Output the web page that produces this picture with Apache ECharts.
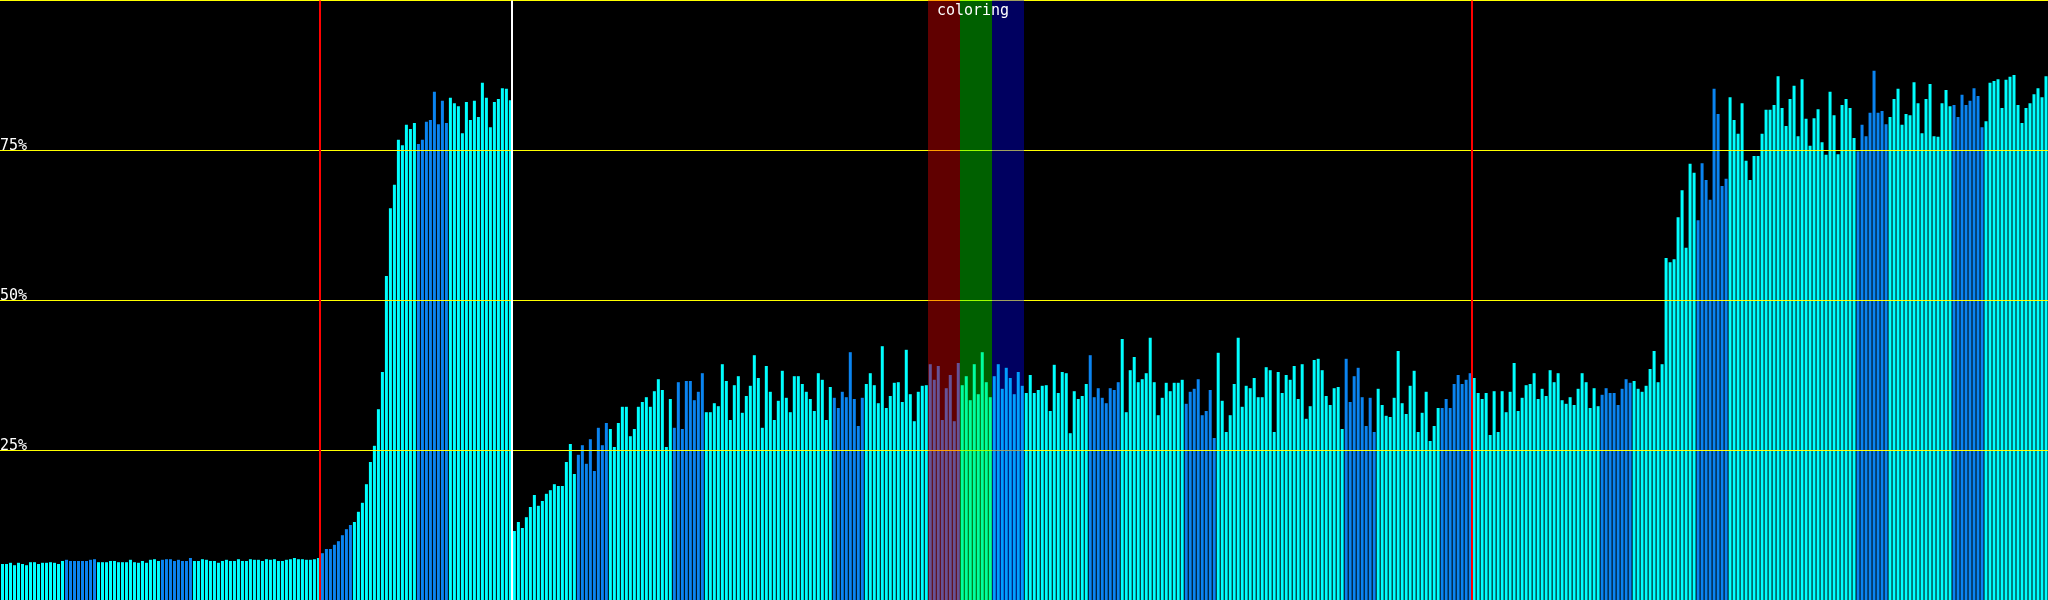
<!DOCTYPE html>
<html>
<head>
<meta charset="utf-8">
<script src="https://cdn.jsdelivr.net/npm/echarts@6/dist/echarts.min.js"></script>
<style>
html,body{margin:0;padding:0;background:#000;}
#chart{width:2048px;height:600px;}
</style>
</head>
<body>
<div id="chart"></div>
<script>
// ---- data (percent per bar, 512 bars) ----
const values000 = [
 6.0,6.0,6.2,5.8,6.2,6.0,5.8,6.3,6.3,6.0,6.2,6.2,6.3,6.2,6.0,6.5,
 6.7,6.5,6.5,6.5,6.5,6.5,6.7,6.8,6.3,6.3,6.3,6.5,6.5,6.3,6.3,6.3,
 6.7,6.3,6.2,6.5,6.2,6.7,6.8,6.5,6.7,6.8,6.8,6.5,6.7,6.5,6.5,7.0,
 6.5,6.5,6.8,6.7,6.5,6.5,6.2,6.5,6.7,6.5,6.5,6.8,6.5,6.5,6.8,6.7,
 6.7,6.5,6.8,6.7,6.8,6.5,6.5,6.7,6.8,7.0,6.8,6.8,6.7,6.7,6.8,7.0,
 7.8,8.5,8.5,9.2,9.8,10.8,11.8,12.5,13.0,14.7,16.2,19.3,23.0,25.7,31.8,38.0,
 54.0,65.3,69.2,76.7,75.8,79.2,78.5,79.5,76.0,76.7,79.7,80.0,84.7,79.3,83.2,79.5,
 83.7,82.8,82.3,77.8,83.0,80.0,83.2,80.5,86.2,83.7,78.8,83.0,83.5,85.3,85.2,83.3
];
const values128 = [
 11.5,13.0,12.0,13.8,15.5,17.5,15.7,16.5,17.7,18.3,19.3,19.0,19.0,23.0,26.0,21.0,
 24.2,25.8,22.7,26.8,21.5,28.7,25.8,29.5,28.5,25.5,29.5,32.2,32.2,27.3,28.5,32.2,
 33.0,33.8,32.2,34.8,36.8,35.0,25.5,33.5,28.7,36.3,28.5,36.5,36.5,33.3,34.7,37.8,
 31.3,31.3,32.8,32.3,39.3,36.5,30.0,35.8,37.3,31.2,34.0,35.7,40.8,37.0,28.7,39.0,
 34.7,30.0,33.2,38.2,33.7,31.3,37.3,37.3,36.0,34.7,33.5,31.5,37.8,36.7,30.0,35.5,
 33.7,32.0,34.7,33.8,41.3,33.5,29.0,33.7,36.0,37.8,35.8,32.8,42.3,32.0,34.0,36.2,
 36.3,33.0,41.7,34.3,29.8,34.7,35.7,35.8,39.3,36.7,39.0,30.0,35.3,37.5,29.8,39.5,
 35.8,37.3,33.3,39.3,34.3,41.3,36.3,33.8,37.3,39.3,35.2,38.7,37.0,34.3,38.0,35.7
];
const values256 = [
 34.5,37.5,34.5,35.0,35.7,35.8,31.5,39.2,34.5,38.0,37.8,27.8,34.8,33.5,34.0,36.0,
 40.8,33.8,35.3,33.7,32.8,35.3,35.0,36.3,43.5,31.3,38.3,40.5,36.3,36.8,37.8,43.7,
 36.3,30.8,33.7,36.2,34.8,36.2,36.2,36.7,32.7,34.7,35.2,36.8,30.8,31.5,35.0,27.0,
 41.2,33.2,28.0,30.8,36.0,43.7,32.2,35.7,35.3,37.0,33.8,33.8,38.8,38.3,28.0,38.0,
 34.5,37.5,36.7,39.0,33.5,39.3,30.2,32.3,40.0,40.2,38.3,34.0,32.5,35.3,35.5,28.5,
 40.2,33.0,37.3,38.7,33.8,29.0,33.7,28.0,35.2,32.5,30.7,30.5,33.7,41.5,32.8,31.0,
 35.7,38.2,28.0,31.2,34.7,26.5,29.0,32.0,32.0,33.5,32.0,36.0,37.5,36.0,36.7,37.8,
 37.0,34.5,33.5,34.5,27.5,34.8,28.0,34.8,31.3,34.7,39.5,31.5,33.7,35.8,36.0,37.8
];
const values384 = [
 33.5,35.2,34.0,38.3,36.3,37.8,33.3,32.7,33.8,32.5,35.2,37.8,36.3,32.0,35.3,32.3,
 34.2,35.3,34.5,34.5,32.5,35.2,36.8,36.2,36.5,35.2,34.7,35.7,38.5,41.5,36.3,39.3,
 57.0,56.3,56.8,63.8,68.3,58.7,72.7,71.2,63.3,72.8,70.0,66.7,85.2,81.0,69.0,70.2,
 83.8,80.0,77.7,82.8,73.2,70.0,74.0,74.0,77.7,81.7,81.7,82.5,87.3,82.0,79.0,83.5,
 85.7,77.3,86.8,80.2,75.7,80.3,81.8,76.3,74.2,84.7,80.8,74.3,82.5,83.5,82.0,77.0,
 74.8,79.2,77.3,81.2,88.2,81.2,81.5,79.3,80.5,83.5,85.2,79.2,81.0,80.8,86.3,82.8,
 77.8,83.5,86.0,77.3,77.2,82.8,85.0,82.3,82.5,80.5,84.2,82.5,83.2,85.3,84.0,78.8,
 79.8,86.2,86.5,86.8,82.0,86.7,87.2,87.5,82.5,79.5,82.0,82.8,84.3,85.3,83.8,87.3
];
// bars are coloured in groups of 8; these groups are drawn blue, the rest cyan
const groupSize = 8;
const blueGroups = [2,5,10,13,18,21,26,29,34,37,42,45,50,53,58,61];
// reference lines (bar index positions) and horizontal guides (percent)
const redMarks = [80, 368];
const whiteMarks = [128];
const guideLevels = [25, 50, 75];
const topLevel = 100;
// coloured bands: [startBar, endBar(exclusive)] and their overlay colours
const bandRanges = [[232, 240], [240, 248], [248, 256]];
const bandColors = ['rgba(255,0,0,0.376)', 'rgba(0,255,0,0.376)', 'rgba(0,0,255,0.376)'];
const bandLabel = 'coloring';

const CYAN = '#00ffff';
const BLUE = '#0a84f0';

const values = values000.concat(values128, values256, values384);
const N = values.length;
const categories = values.map((_, i) => String(i));
const barData = values.map((v, i) => ({
  value: v,
  itemStyle: { color: blueGroups.indexOf(Math.floor(i / groupSize)) >= 0 ? BLUE : CYAN }
}));

const chart = echarts.init(document.getElementById('chart'), null, { renderer: 'canvas' });
const font = '"DejaVu Sans Mono", monospace';

chart.setOption({
  animation: false,
  backgroundColor: '#000',
  grid: [
    { left: 0.5, top: 0, width: 2048, height: 600, containLabel: false },
    { left: 0, top: 0.5, width: 2048, height: 600, containLabel: false }
  ],
  xAxis: [
    { type: 'category', data: categories, gridIndex: 0, show: false, boundaryGap: true },
    { type: 'value', min: 0, max: N, gridIndex: 1, show: false }
  ],
  yAxis: [
    { type: 'value', min: 0, max: 100, gridIndex: 0, show: false },
    { type: 'value', min: 0, max: 100, gridIndex: 1, show: false }
  ],
  series: [
    {
      type: 'bar', xAxisIndex: 0, yAxisIndex: 0, z: 2,
      barWidth: 3, data: barData, silent: true
    },
    {
      type: 'custom', xAxisIndex: 1, yAxisIndex: 1, z: 5, silent: true, clip: false,
      data: bandRanges.map((r, k) => [r[0], r[1], k]),
      renderItem: function (params, api) {
        const k = api.value(2);
        const p0 = api.coord([api.value(0), 100]);
        const p1 = api.coord([api.value(1), 0]);
        const children = [{
          type: 'rect',
          shape: { x: Math.round(p0[0]), y: 0, width: Math.round(p1[0]) - Math.round(p0[0]), height: 600 },
          style: { fill: bandColors[k] }
        }];
        if (k === 1) {
          children.push({
            type: 'text', z2: 10,
            style: {
              text: bandLabel, x: (p0[0] + p1[0]) / 2 - 3, y: 4,
              fill: '#fff', font: '15px ' + font, align: 'center', verticalAlign: 'top'
            }
          });
        }
        return { type: 'group', children: children };
      }
    },
    {
      type: 'line', xAxisIndex: 1, yAxisIndex: 1, z: 8, data: [], silent: true,
      markLine: {
        silent: true, symbol: 'none', animation: false,
        data: guideLevels.map(l => ({
          yAxis: l,
          lineStyle: { color: '#ffff00', width: 1, type: 'solid' },
          label: { show: true, position: 'insideStartTop', formatter: l + '%', color: '#fff',
            fontFamily: font, fontSize: 15, distance: 0, offset: [0, 3] }
        })).concat([
          { yAxis: topLevel, lineStyle: { color: '#ffff00', width: 1, type: 'solid' }, label: { show: false } }
        ]).concat(redMarks.map(x => ({
          xAxis: x, lineStyle: { color: '#ff0000', width: 2, type: 'solid' }, label: { show: false }
        }))).concat(whiteMarks.map(x => ({
          xAxis: x, lineStyle: { color: '#ffffff', width: 2, type: 'solid' }, label: { show: false }
        })))
      }
    }
  ]
});
</script>
</body>
</html>
